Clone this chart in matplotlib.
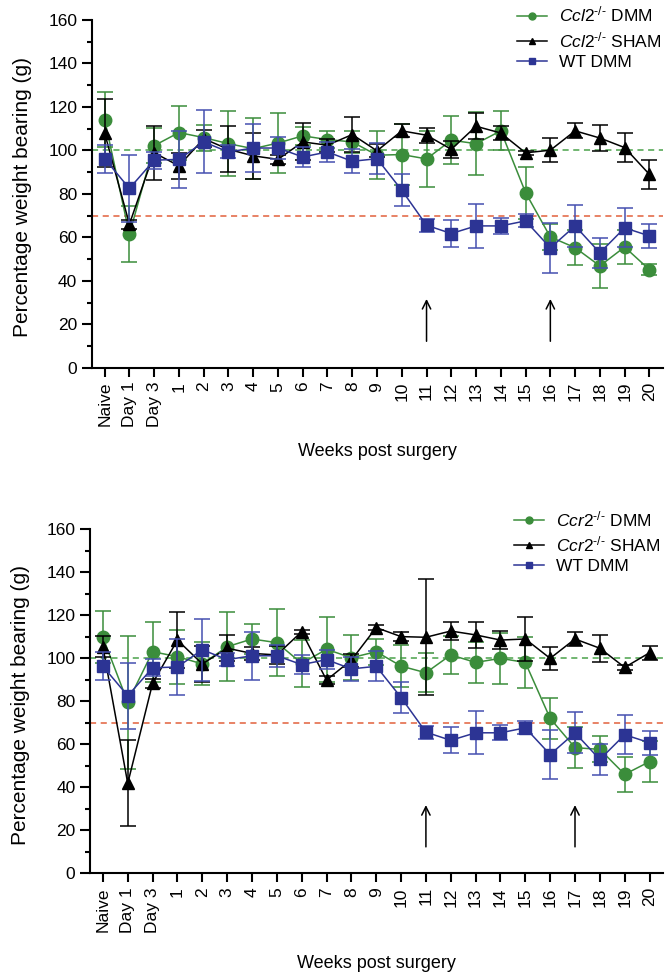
import numpy as np
import matplotlib
matplotlib.use('Agg')
import matplotlib.pyplot as plt
from matplotlib.lines import Line2D

plt.rcParams['font.family'] = ['Liberation Sans', 'DejaVu Sans']
plt.rcParams['mathtext.fontset'] = 'custom'
plt.rcParams['mathtext.rm'] = 'Liberation Sans'
plt.rcParams['mathtext.it'] = 'Liberation Sans:italic'

# Categories on the x axis
categories = ['Naive', 'Day 1', 'Day 3'] + [str(i) for i in range(1, 21)]

# Top panel: Ccl2
ccl2_dmm = [114.2, 61.5, 102.2, 108.2, 105.9, 103.1, 100.8, 103.4, 106.7, 105.0, 103.9, 97.8,
            98.1, 96.1, 104.7, 103.1, 109.0, 80.6, 60.2, 55.3, 46.9, 55.6, 45.2]
ccl2_dmm_err = [12.7, 12.8, 8, 12.4, 6, 15, 14, 14, 4, 4, 5, 11, 14, 13, 11, 14.5, 9, 12, 6, 8, 10, 8, 2.5]
ccl2_sham = [108, 66.1, 98.9, 92.9, 105.4, 100.5, 97.5, 95.9, 103.9, 102.4, 107.3, 99.8,
             109, 107, 100.5, 111.1, 108, 98.9, 100.1, 109, 105.7, 101.3, 89]
ccl2_sham_err = [15.5, 2, 12.4, 6, 4, 10.5, 10.5, 2, 8.5, 3, 8, 3, 3, 3.5, 4, 6, 3, 1, 5.5, 3.5, 6, 6.8, 6.7]

# WT DMM (same group in both panels)
wt_dmm = [96.2, 82.5, 95.5, 95.9, 103.9, 99.3, 101.1, 101.1, 97, 99.3, 95, 96.2,
          81.7, 65.6, 61.8, 65.3, 65.3, 67.6, 55.2, 65.3, 52.9, 64.4, 60.7]
wt_dmm_err = [6.5, 15.3, 4, 13.2, 14.5, 3, 11.2, 5, 4.5, 4.5, 5.5, 7, 7.3, 3, 6, 10, 3.5, 3, 11.5, 9.5, 7, 9, 5.5]

# Bottom panel: Ccr2
ccr2_dmm = [109.7, 79.5, 103, 100.7, 97.3, 105.3, 108.9, 107.2, 97.6, 104.1, 100.2, 103,
            96.3, 93.2, 101.5, 98, 99.9, 98, 72, 58.4, 57.6, 46, 51.9]
ccr2_dmm_err = [12, 31, 14, 12.5, 10, 16, 7, 15.6, 11, 15, 10.5, 6, 9.7, 9, 9, 9.6, 12, 12, 9.5, 9.6, 6, 8.2, 9.6]
ccr2_sham = [105.3, 41.8, 88.3, 108.4, 97.3, 104.6, 102.2, 101.5, 112.3, 89.8, 99.1, 114.2,
             110, 109.7, 112.6, 110.8, 108.4, 108.9, 99.9, 108.9, 104.6, 95.7, 102.5]
ccr2_sham_err = [5, 20, 2, 13, 8.5, 6, 3, 4, 1, 2, 3, 1, 2, 27, 4, 6.2, 4, 10.4, 5.5, 3.4, 6.3, 1, 3.3]

# Arrow positions (week labels)
top_arrows = ['11', '16']
bottom_arrows = ['11', '17']

GREEN = '#3b8d3b'
BLUE = '#2c3494'
BLUE_ERR = '#4550b0'
RED = '#e2603c'

fig = plt.figure(figsize=(6.65, 9.75), dpi=100)
ax1 = fig.add_axes([0.138, 0.6226, 0.859, 0.357])
ax2 = fig.add_axes([0.1353, 0.1043, 0.862, 0.3531])

x = np.arange(len(categories))


def draw_panel(ax, ko_dmm, ko_dmm_err, ko_sham, ko_sham_err, gene, arrows, legend_anchor, xlab_y):
    ax.axhline(100, color='#4aa24a', ls=(0, (4, 3)), lw=1.1, zorder=1)
    ax.axhline(70, color=RED, ls=(0, (4, 3)), lw=1.1, zorder=1)

    ax.errorbar(x, ko_dmm, yerr=ko_dmm_err, color=GREEN, marker='o', ms=9, lw=1.1,
                capsize=5.5, elinewidth=1.1, capthick=1.1, zorder=3)
    ax.errorbar(x, ko_sham, yerr=ko_sham_err, color='black', marker='^', ms=8.5, lw=1.1,
                capsize=5.5, elinewidth=1.1, capthick=1.1, zorder=4)
    ax.errorbar(x, wt_dmm, yerr=wt_dmm_err, color=BLUE, marker='s', ms=8, lw=1.1,
                ecolor=BLUE_ERR, capsize=5.5, elinewidth=1.1, capthick=1.1, zorder=5)

    for a in arrows:
        i = categories.index(a)
        ax.annotate('', xy=(i, 33), xytext=(i, 11),
                    arrowprops=dict(arrowstyle='->,head_length=0.6,head_width=0.3',
                                    color='black', lw=1.1))

    ax.set_xlim(-0.52, 22.55)
    ax.set_ylim(0, 160)
    ax.set_yticks(np.arange(0, 161, 20))
    ax.set_yticks(np.arange(0, 161, 10), minor=True)
    ax.set_xticks(x)
    ax.set_xticklabels(categories, rotation=90)
    ax.tick_params(axis='both', labelsize=12.5, width=1.5, direction='out')
    ax.tick_params(axis='y', which='major', length=7)
    ax.tick_params(axis='y', which='minor', length=3.5, width=1.5)
    ax.tick_params(axis='x', length=6.5)
    for s in ['top', 'right']:
        ax.spines[s].set_visible(False)
    for s in ['left', 'bottom']:
        ax.spines[s].set_linewidth(1.5)

    ax.set_ylabel('Percentage weight bearing (g)', fontsize=15)
    ax.yaxis.set_label_coords(-0.105, 0.49)
    ax.text(0.5, xlab_y, 'Weeks post surgery', transform=ax.transAxes,
            ha='center', va='center', fontsize=13)

    sup = r'^{\text{-/-}}'
    handles = [
        Line2D([], [], color=GREEN, marker='o', ms=5, lw=1.1),
        Line2D([], [], color='black', marker='^', ms=5, lw=1.1),
        Line2D([], [], color=BLUE, marker='s', ms=5, lw=1.1),
    ]
    labels = [
        r'$\mathit{' + gene + '}' + sup + r'$ DMM',
        r'$\mathit{' + gene + '}' + sup + r'$ SHAM',
        'WT DMM',
    ]
    ax.legend(handles, labels, loc='upper left', bbox_to_anchor=legend_anchor,
              bbox_transform=fig.transFigure, frameon=False, fontsize=12.5,
              handlelength=1.75, handletextpad=0.65, labelspacing=0.3,
              borderpad=0, borderaxespad=0)


draw_panel(ax1, ccl2_dmm, ccl2_dmm_err, ccl2_sham, ccl2_sham_err, 'Ccl2', top_arrows,
           (517 / 665, 1 - 5 / 975), -0.241)
draw_panel(ax2, ccr2_dmm, ccr2_dmm_err, ccr2_sham, ccr2_sham_err, 'Ccr2', bottom_arrows,
           (514 / 665, 1 - 509 / 975), -0.261)

plt.savefig('out.png', dpi=100)
plt.close()
